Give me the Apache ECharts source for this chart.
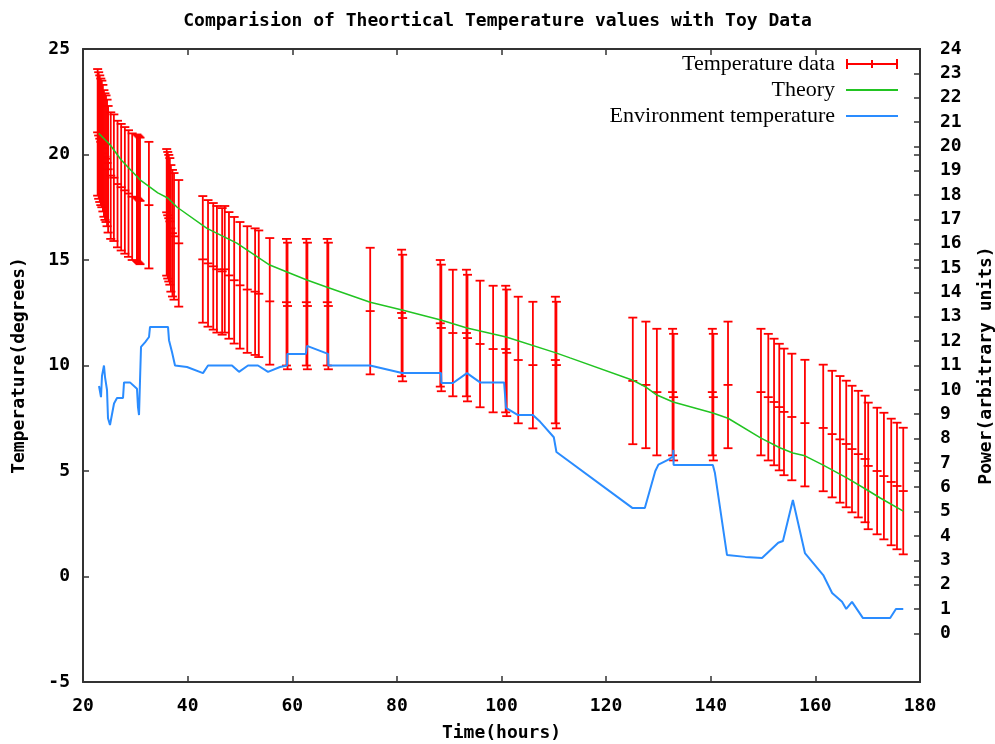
<!DOCTYPE html>
<html><head><meta charset="utf-8">
<script src="https://cdn.jsdelivr.net/npm/echarts@6/dist/echarts.min.js"></script>
<style>html,body{margin:0;padding:0;background:#fff}#c{width:995px;height:744px}</style>
</head><body><div id="c"></div>
<script>
// Temperature data (error bars): time, centre value, half-error
const dataTime = [22.8,23.0,23.2,23.4,23.6,23.8,24.0,24.2,24.4,24.6,24.8,25.3,25.9,26.6,27.3,28.0,28.7,29.4,30.3,30.5,30.7,30.9,32.6,
  36.0,36.2,36.4,36.6,36.8,37.1,37.4,38.3,
  42.9,43.9,44.9,45.6,46.6,47.1,47.9,48.9,50.0,51.4,52.9,53.6,55.7,
  58.9,59.1,62.7,62.9,66.7,66.9,74.9,80.9,81.1,88.3,88.5,90.7,93.3,93.5,95.9,98.4,100.8,101.0,103.2,106.0,110.3,110.5,
  125.1,127.6,129.7,132.7,132.9,140.3,140.5,143.3,149.6,151.0,152.1,153.1,154.0,155.5,158.0,161.5,163.2,164.7,165.9,167.0,168.2,169.5,170.1,171.8,173.1,174.5,175.6,176.8];
const dataTemp = [21.05,20.9,20.75,20.6,20.5,20.3,20.05,19.9,19.8,19.6,19.3,19.0,18.9,18.6,18.45,18.3,18.15,18.0,17.95,17.9,17.85,17.8,17.6,
  17.26,17.12,16.98,16.83,16.5,16.27,16.12,15.79,
  15.03,14.84,14.7,14.56,14.46,14.56,14.27,14.04,13.8,13.6,13.5,13.4,13.04,
  13.0,12.82,13.0,12.82,13.0,12.82,12.58,12.49,12.25,12.0,11.78,11.54,11.54,11.3,11.02,10.78,10.78,10.6,10.26,10.02,10.26,10.02,
  9.27,9.08,8.74,8.74,8.5,8.74,8.5,9.08,8.74,8.5,8.27,8.03,7.8,7.56,7.27,7.04,6.75,6.5,6.28,6.04,5.8,5.57,5.24,5.0,4.76,4.48,4.29,4.05];
const dataErr = [3,3,3,3,3,3,3,3,3,3,3,3,3,3,3,3,3,3,3,3,3,3,3,
  3,3,3,3,3,3,3,3,
  3,3,3,3,3,3,3,3,3,3,3,3,3,
  3,3,3,3,3,3,3,3,3,3,3,3,3,3,3,3,3,3,3,3,3,3,
  3,3,3,3,3,3,3,3,3,3,3,3,3,3,3,3,3,3,3,3,3,3,3,3,3,3,3,3];
// Theory curve
const theoryTime = [23.0,25.2,27.3,30.9,34.3,36.2,38.0,43.7,49.4,55.7,59.0,62.8,66.8,74.9,81.0,88.4,93.4,100.9,110.4,113.1,125.1,127.6,129.7,132.8,140.4,143.3,149.6,153.2,155.7,158.0,161.5,166.0,169.9,172.4,176.8];
const theoryTemp = [21.0,20.45,19.74,18.8,18.18,17.94,17.5,16.5,15.8,14.76,14.43,14.05,13.7,13.0,12.63,12.16,11.78,11.35,10.6,10.36,9.3,8.98,8.6,8.27,7.75,7.5,6.56,6.1,5.85,5.72,5.28,4.67,4.1,3.72,3.1];
// Environment temperature
const envTime = [23.06,23.44,23.63,24.01,24.21,24.59,24.78,25.16,25.54,25.93,26.5,27.65,27.84,28.98,30.32,30.51,30.71,30.9,31.09,31.85,32.62,32.81,36.25,36.44,37.01,37.59,39.88,42.94,43.9,48.48,49.82,51.54,53.45,55.37,57.66,
  59.0,59.05,62.6,62.82,66.84,66.9,74.87,81.0,88.44,88.5,90.73,93.4,95.9,100.5,100.86,103.16,106.0,107.4,110.0,110.5,
  125.0,127.4,129.4,130.0,132.0,132.8,132.85,132.9,140.4,140.8,143.1,146.6,149.8,152.9,153.8,155.7,158.0,161.5,163.2,165.1,165.9,167.0,169.1,174.3,175.4,176.8];
const envTemp = [9.03,8.5,9.5,10.0,9.45,8.84,7.5,7.18,7.18,8.2,8.46,8.46,9.2,9.2,8.9,8.03,7.65,9.3,10.88,11.1,11.35,11.83,11.83,11.2,10.64,10.0,9.93,9.64,10.0,10.0,9.7,10.0,10.0,9.7,9.93,
  10.0,10.55,10.55,10.93,10.55,10.0,10.0,9.64,9.64,9.17,9.17,9.64,9.2,9.2,7.99,7.65,7.65,7.33,6.6,5.9,
  3.25,3.25,5.0,5.3,5.55,5.7,6.0,5.28,5.28,4.9,1.02,0.93,0.88,1.6,1.68,3.63,1.11,0.07,-0.78,-1.2,-1.54,-1.2,-1.97,-1.97,-1.54,-1.54];
// Right axis (power) tick values
const powerTicks = [0,1,2,3,4,5,6,7,8,9,10,11,12,13,14,15,16,17,18,19,20,21,22,23,24];

const RED = '#ff0000', GREEN = '#22c422', BLUE = '#2a8cff', AX = '#333333';
const mono = {fontFamily: 'DejaVu Sans Mono', fontWeight: 'bold', fontSize: 18, color: '#000'};
const axLine = {show: true, onZero: false, lineStyle: {color: AX, width: 2}};
const axTick = {show: true, inside: true, length: 6, lineStyle: {color: AX, width: 1.5}};

const chart = echarts.init(document.getElementById('c'), null, {renderer: 'canvas'});
chart.setOption({
  animation: false,
  backgroundColor: '#fff',
  title: {text: 'Comparision of Theortical Temperature values with Toy Data', left: 'center', top: 7, textStyle: mono},
  legend: {
    orient: 'vertical', right: 97, top: 53, align: 'right', padding: 0, itemGap: 4,
    itemWidth: 52, itemHeight: 10,
    textStyle: {fontFamily: 'Liberation Serif', fontSize: 22, color: '#000', lineHeight: 22, padding: [0, 6, 0, 0]},
    data: [
      {name: 'Temperature data', icon: 'path://M0,0h2v10h-2z M25,1h2v8h-2z M50,0h2v10h-2z M0,4h52v2h-52z', itemStyle: {color: RED, borderWidth: 0}},
      {name: 'Theory', icon: 'path://M0,0M0,10M0,4h52v2h-52z', itemStyle: {color: GREEN, borderWidth: 0}},
      {name: 'Environment temperature', icon: 'path://M0,0M0,10M0,4h52v2h-52z', itemStyle: {color: BLUE, borderWidth: 0}}
    ]
  },
  grid: {left: 83, right: 75, top: 49, bottom: 62, containLabel: false, outerBoundsMode: 'none'},
  xAxis: [
    {type: 'value', min: 20, max: 180, interval: 20, position: 'bottom', axisLine: axLine, axisTick: axTick,
     axisLabel: Object.assign({margin: 15}, mono), splitLine: {show: false},
     name: 'Time(hours)', nameLocation: 'middle', nameGap: 42, nameTextStyle: mono},
    {type: 'value', min: 20, max: 180, interval: 20, position: 'top', axisLine: axLine, axisTick: axTick,
     axisLabel: {show: false}, splitLine: {show: false}}
  ],
  yAxis: [
    {type: 'value', min: -5, max: 25, interval: 5, position: 'left', axisLine: axLine, axisTick: axTick,
     axisLabel: Object.assign({margin: 13}, mono), splitLine: {show: false},
     name: 'Temperature(degrees)', nameLocation: 'middle', nameRotate: 90, nameGap: 55, nameTextStyle: mono},
    {type: 'value', min: -5, max: 25, interval: 5, position: 'right', axisLine: axLine, axisTick: axTick,
     axisLabel: {show: false}, splitLine: {show: false}},
    {type: 'value', min: -2, max: 24, interval: 1, position: 'right', axisLine: axLine,
     axisTick: Object.assign({customValues: powerTicks}, axTick),
     axisLabel: Object.assign({margin: 20, customValues: powerTicks}, mono), splitLine: {show: false},
     name: 'Power(arbitrary units)', nameLocation: 'middle', nameRotate: 90, nameGap: 57, nameTextStyle: mono}
  ],
  series: [
    {
      type: 'custom', name: 'Temperature data', xAxisIndex: 0, yAxisIndex: 0,
      data: dataTime.map((t, i) => [t, dataTemp[i], dataErr[i]]),
      encode: {x: 0, y: 1},
      itemStyle: {color: RED},
      renderItem: function (params, api) {
        const t = api.value(0), c = api.value(1), e = api.value(2);
        const hi = api.coord([t, c + e]), mid = api.coord([t, c]), lo = api.coord([t, c - e]);
        const w = 4.5;
        const st = {stroke: RED, lineWidth: 1.8};
        const seg = (x1, y1, x2, y2) => ({type: 'line', shape: {x1, y1, x2, y2}, style: st});
        return {type: 'group', children: [
          seg(hi[0], hi[1], lo[0], lo[1]),
          seg(hi[0] - w, hi[1], hi[0] + w, hi[1]),
          seg(mid[0] - w, mid[1], mid[0] + w, mid[1]),
          seg(lo[0] - w, lo[1], lo[0] + w, lo[1])
        ]};
      }
    },
    {
      type: 'line', name: 'Theory', xAxisIndex: 0, yAxisIndex: 0, symbol: 'none', showSymbol: false,
      data: theoryTime.map((t, i) => [t, theoryTemp[i]]),
      lineStyle: {color: GREEN, width: 1.5}, itemStyle: {color: GREEN}
    },
    {
      type: 'line', name: 'Environment temperature', xAxisIndex: 0, yAxisIndex: 0, symbol: 'none', showSymbol: false,
      data: envTime.map((t, i) => [t, envTemp[i]]),
      lineStyle: {color: BLUE, width: 2}, itemStyle: {color: BLUE}
    }
  ]
});
</script>
</body></html>
